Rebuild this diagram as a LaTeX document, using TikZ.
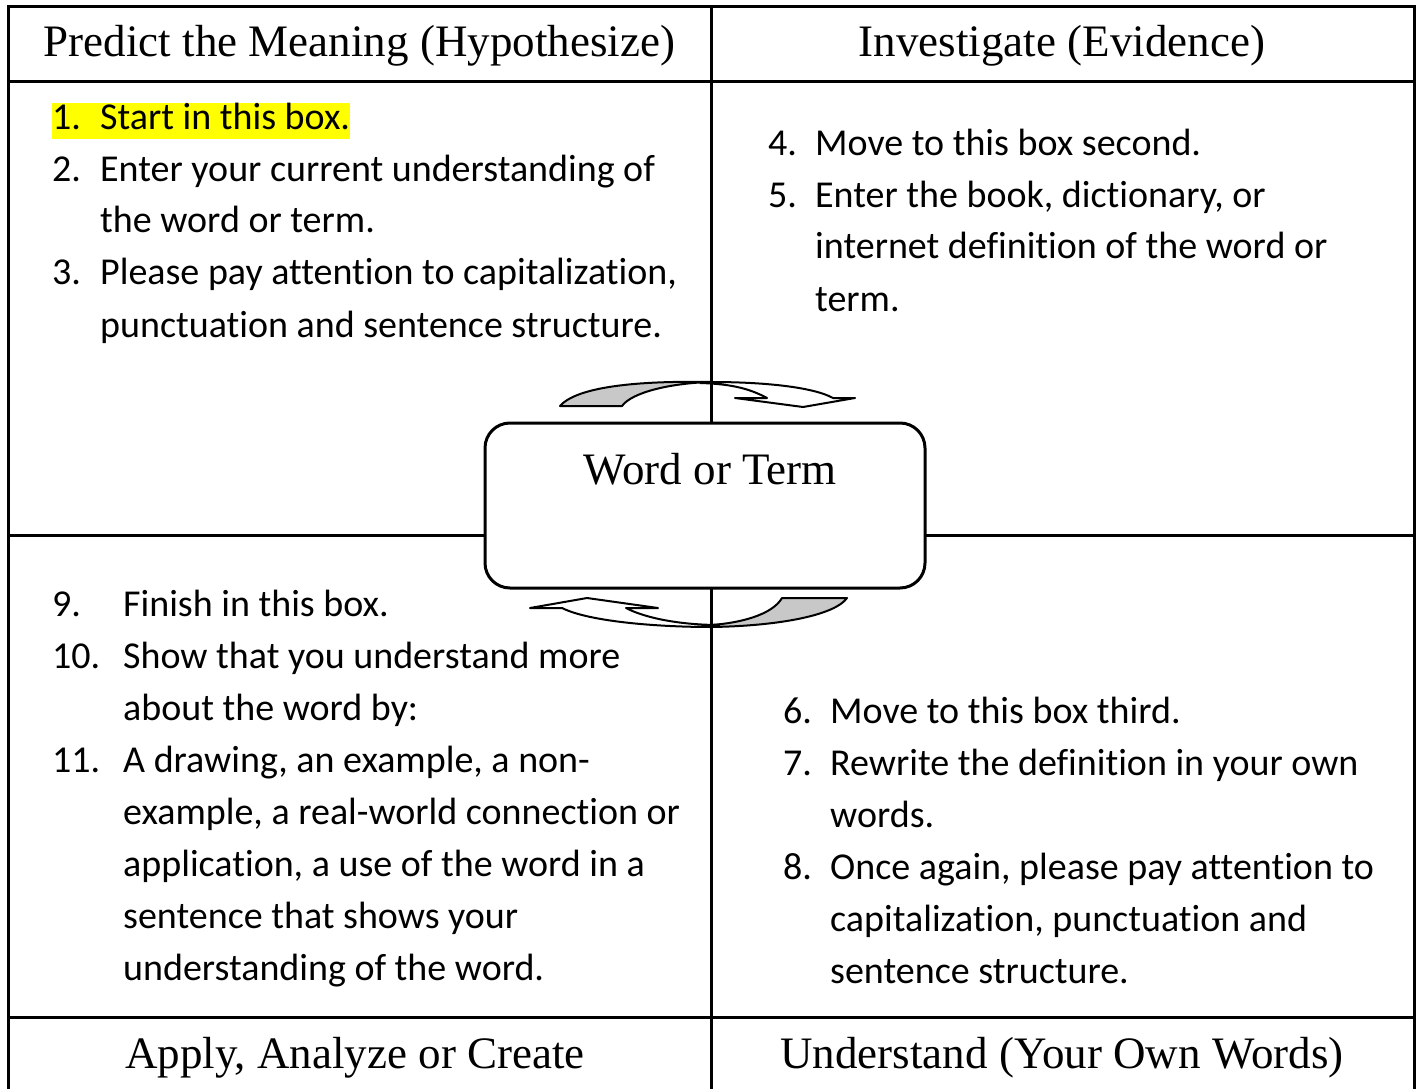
\documentclass[tikz,border=0pt]{standalone}
\usepackage{fontspec}
\usepackage{array}
\setmainfont{Liberation Serif}
\newfontfamily\bodyfont[Ligatures=NoCommon]{Carlito}
\definecolor{hlyellow}{RGB}{255,255,0}
\definecolor{tailgray}{RGB}{200,200,200}
\newcommand{\hlbox}[1]{{\setlength{\fboxsep}{0pt}\colorbox{hlyellow}{\rule[-10pt]{0pt}{36pt}#1}}}
\tikzstyle{head}=[anchor=base,inner sep=0pt,font=\fontsize{45}{52}\selectfont]
\tikzstyle{cell}=[anchor=base west,inner sep=0pt,font=\bodyfont\fontsize{38}{52}\selectfont]
\tikzstyle{rule}=[line width=3pt]
\tikzstyle{turn}=[line width=2pt,line join=round]

\begin{document}
\begin{tikzpicture}[x=1pt,y=-1pt]
\useasboundingbox (0,0) rectangle (1421,1089);
% table lines
\draw[rule] (8,1089) -- (8,7) -- (1414,7) -- (1414,1089);
\draw[rule] (8,82) -- (1414,82);
\draw[rule] (8,535) -- (1414,535);
\draw[rule] (8,1017) -- (1414,1017);
\draw[rule] (711,7) -- (711,1089);

% headers and footers
\node[head] (predict) at (359.5,57) {Predict the Meaning (Hypothesize)};
\node[head] (investigate) at (1062,57) {Investigate (Evidence)};
\node[head] (apply) at (355,1068) {Apply, Analyze or Create};
\node[head] (understand) at (1062,1068) {Understand (Your Own Words)};

% the four cells
\node[cell] (predtext) at (52,129) {\begin{tabular}[t]{@{}p{48pt}@{}l@{}}
\multicolumn{2}{@{}l@{}}{\hlbox{\makebox[48pt][l]{1.}Start in this box.}}\\
2. & Enter your current understanding of\\
   & the word or term.\\
3. & Please pay attention to capitalization,\\
   & punctuation and sentence structure.
\end{tabular}};
\node[cell] (invtext) at (768,155) {\begin{tabular}[t]{@{}p{47pt}@{}l@{}}
4. & Move to this box second.\\
5. & Enter the book, dictionary, or\\
   & internet definition of the word or\\
   & term.
\end{tabular}};
\node[cell] (apptext) at (52,616) {\begin{tabular}[t]{@{}p{71pt}@{}l@{}}
9.  & Finish in this box.\\
10. & Show that you understand more\\
    & about the word by:\\
11. & A drawing, an example, a non-\\
    & example, a real-world connection or\\
    & application, a use of the word in a\\
    & sentence that shows your\\
    & understanding of the word.
\end{tabular}};
\node[cell] (undtext) at (783,723) {\begin{tabular}[t]{@{}p{47pt}@{}l@{}}
6. & Move to this box third.\\
7. & Rewrite the definition in your own\\
   & words.\\
8. & Once again, please pay attention to\\
   & capitalization, punctuation and\\
   & sentence structure.
\end{tabular}};

% curved arrows round the box
\filldraw[turn,fill=tailgray] (560,406) .. controls (580,383) and (660,381) .. (711,382)
  .. controls (672,383) and (632,392) .. (622,406) -- cycle;
\draw[turn] (711,382) .. controls (770,382) and (815,388) .. (833,398) -- (855,398)
  -- (803,407) -- (735,398) -- (767,398) .. controls (752,390) and (735,384) .. (700,383);
\filldraw[turn,fill=tailgray] (711,627) .. controls (780,626) and (835,615) .. (847,598)
  -- (782,598) .. controls (772,615) and (740,623) .. (711,625) -- cycle;
\draw[turn] (711,627) .. controls (660,627) and (590,622) .. (562,608) -- (530,608)
  -- (587,598) -- (658,608) -- (626,608) .. controls (645,618) and (680,625) .. (720,625);

% centre box
\node[draw,line width=3pt,fill=white,rounded corners=25pt,minimum width=440pt,
  minimum height=165pt] (word) at (705,505.5) {};
\node[head] (wordtext) at (710,484) {Word or Term};
\end{tikzpicture}
\end{document}
